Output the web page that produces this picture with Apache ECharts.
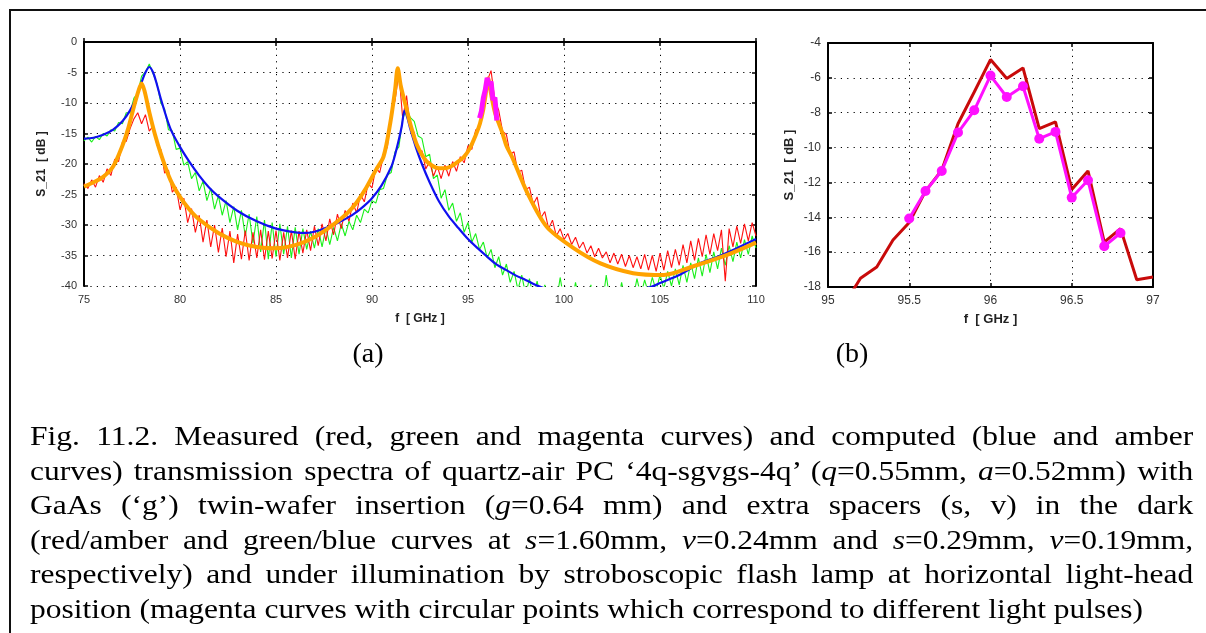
<!DOCTYPE html>
<html>
<head>
<meta charset="utf-8">
<script src="https://cdn.jsdelivr.net/npm/echarts@6/dist/echarts.min.js"></script>
<style>
  html, body { margin: 0; padding: 0; background: #fff; }
  body { width: 1206px; height: 633px; position: relative; overflow: hidden; }
  #frame { position: absolute; left: 9px; top: 9px; width: 1400px; height: 800px;
           border-left: 2px solid #111; border-top: 2px solid #111; }
  #chart { position: absolute; left: 0; top: 0; width: 1206px; height: 633px; }
  .tag { position: absolute; top: 336px; width: 80px; text-align: center;
         font: 28px/34.5px "Liberation Serif", "DejaVu Serif", serif; color: #000; }
  #caption { position: absolute; left: 30px; top: 419px; width: 1034px;
             transform: scaleX(1.125); transform-origin: 0 0;
             font: 28px/34.5px "Liberation Serif", "DejaVu Serif", serif; color: #000; }
  #caption div { white-space: nowrap; text-align: justify; text-align-last: justify; }
  #caption div.last { text-align-last: left; }
</style>
</head>
<body>
<div id="frame"></div>
<div id="chart"></div>
<div class="tag" style="left:328px">(a)</div>
<div class="tag" style="left:812px">(b)</div>
<div id="caption">
  <div>Fig. 11.2. Measured (red, green and magenta curves) and computed (blue and amber</div>
  <div>curves) transmission spectra of quartz-air PC ‘4q-sgvgs-4q’ (<i>q</i>=0.55mm, <i>a</i>=0.52mm) with</div>
  <div>GaAs (‘g’) twin-wafer insertion (<i>g</i>=0.64 mm) and extra spacers (s, v) in the dark</div>
  <div>(red/amber and green/blue curves at <i>s</i>=1.60mm, <i>v</i>=0.24mm and <i>s</i>=0.29mm, <i>v</i>=0.19mm,</div>
  <div>respectively) and under illumination by stroboscopic flash lamp at horizontal light-head</div>
  <div class="last">position (magenta curves with circular points which correspond to different light pulses)</div>
</div>
<script>
// (a) measured spectra, sampled every 0.2 GHz from 75 to 110 GHz
const fStart = 75;
const fStep = 0.2;
const redMeas = [
  -23.2, -24.0, -22.6, -23.8, -21.9, -23.0, -20.8, -21.9, -19.2, -19.6,
  -16.4, -16.3, -14.2, -12.6, -11.6, -13.4, -11.9, -14.6, -13.8, -16.9,
  -17.6, -21.5, -21.0, -24.6, -23.8, -27.5, -25.6, -29.6, -27.3, -31.2,
  -28.4, -32.8, -29.2, -33.6, -30.0, -34.5, -30.5, -35.2, -31.0, -36.2,
  -31.5, -35.6, -30.9, -35.8, -31.2, -35.4, -30.8, -35.7, -31.0, -35.5,
  -30.9, -35.8, -31.2, -35.4, -30.9, -35.6, -31.0, -34.6, -30.8, -34.2,
  -30.2, -33.4, -29.8, -32.6, -29.0, -31.6, -28.2, -30.6, -27.6, -29.4,
  -26.4, -28.0, -25.0, -26.2, -23.2, -23.9, -20.6, -21.4, -18.6, -17.2,
  -11.8, -9.6, -5.0, -12.6, -8.8, -14.2, -14.8, -18.4, -17.8, -20.8,
  -19.6, -22.0, -20.4, -22.4, -20.2, -22.0, -19.6, -21.2, -18.8, -19.8,
  -17.0, -17.6, -14.4, -14.0, -9.8, -6.4, -4.7, -9.6, -11.2, -14.6,
  -15.2, -18.4, -18.0, -21.4, -21.0, -24.2, -23.8, -26.6, -25.4, -28.8,
  -27.8, -30.6, -29.2, -31.8, -30.6, -32.4, -31.4, -33.2, -32.0, -33.8,
  -32.8, -34.6, -33.4, -35.2, -33.8, -35.4, -34.4, -36.2, -34.6, -36.4,
  -34.8, -36.8, -35.0, -37.0, -35.2, -37.2, -34.8, -37.4, -35.0, -37.6,
  -34.6, -37.4, -34.2, -37.0, -34.0, -36.6, -33.2, -36.2, -32.6, -35.8,
  -32.2, -35.2, -31.6, -34.8, -31.4, -34.2, -30.8, -39.2, -30.6, -33.6,
  -30.2, -33.0, -29.8, -32.6, -29.6, -31.8
];
const greenMeas = [
  -16.2, -15.6, -16.4, -15.5, -16.0, -15.0, -15.4, -14.4, -14.6, -13.2,
  -13.4, -11.6, -11.6, -9.2, -8.4, -5.6, -4.9, -3.6, -5.2, -6.8,
  -10.0, -11.0, -14.4, -14.6, -17.6, -17.4, -20.2, -19.6, -22.4, -21.4,
  -24.4, -22.8, -26.0, -24.0, -27.4, -25.2, -28.4, -26.0, -29.6, -27.0,
  -30.8, -27.6, -31.8, -28.2, -33.0, -28.6, -34.4, -29.2, -35.6, -29.6,
  -35.2, -29.8, -34.8, -30.2, -35.4, -30.4, -34.8, -30.6, -34.0, -31.0,
  -33.8, -30.6, -33.6, -30.4, -33.2, -30.4, -32.6, -29.8, -31.8, -29.4,
  -30.8, -28.4, -29.6, -27.4, -28.0, -26.0, -26.4, -24.2, -24.0, -21.8,
  -21.4, -18.0, -17.2, -12.6, -11.0, -12.4, -13.0, -15.4, -15.8, -18.8,
  -18.4, -22.4, -21.8, -25.6, -24.2, -27.6, -26.4, -29.4, -28.0, -31.2,
  -29.6, -32.8, -31.4, -34.0, -32.8, -35.4, -34.0, -37.0, -35.2, -38.2,
  -36.4, -39.4, -37.6, -40.6, -38.2, -41.4, -38.8, -41.8, -39.2, -42.2,
  -39.8, -42.6, -40.4, -42.8, -38.6, -42.4, -40.2, -43.0, -39.4, -42.6,
  -40.6, -43.2, -39.8, -42.8, -40.8, -43.0, -38.2, -42.6, -40.4, -43.0,
  -39.4, -42.4, -40.2, -42.0, -38.8, -41.6, -39.0, -41.2, -38.6, -40.8,
  -38.2, -40.4, -37.6, -40.0, -37.2, -39.8, -36.6, -39.4, -36.2, -38.8,
  -35.4, -38.4, -34.8, -37.8, -34.4, -37.2, -33.8, -36.6, -33.4, -36.0,
  -32.8, -35.4, -32.4, -34.8, -31.8, -33.8
];

// (a) computed spectra [f GHz, S21 dB]
const blueCalc = [
  [75, -15.85], [75.5, -15.7], [76, -15.2], [76.5, -14.4], [77, -13.0], [77.4, -11.2],
  [77.7, -9.3], [78.0, -6.6], [78.2, -5.0], [78.4, -4.1], [78.6, -5.0], [78.8, -7.0],
  [79.0, -9.3], [79.5, -14.2], [80, -17.2], [80.5, -19.7], [81, -21.9], [81.5, -23.8],
  [82, -25.3], [83, -27.7], [84, -29.4], [85, -30.6], [86, -31.2], [86.5, -31.3],
  [87, -31.1], [87.5, -30.6], [88, -30.0], [88.5, -29.2], [89, -28.3], [89.5, -27.1],
  [90, -25.6], [90.5, -23.5], [91.0, -20.5], [91.2, -18.5], [91.4, -16.0], [91.55, -13.8],
  [91.7, -11.2], [91.85, -12.5], [92.0, -14.3], [92.3, -17.4], [92.6, -20.0], [93, -23.0],
  [93.5, -26.2], [94, -28.6], [94.5, -30.5], [95, -32.3], [95.5, -33.8], [96, -35.2],
  [96.5, -36.5], [97, -37.4], [97.5, -38.3], [98, -39.0], [98.5, -39.8], [99, -40.4],
  [100, -41.2], [101, -41.7], [102, -41.8], [103, -41.4], [104, -40.6], [104.65, -40.0],
  [105, -39.5], [106, -38.2], [107, -36.4], [108, -35.2], [109, -33.8], [110, -32.3]
];
const amberCalc = [
  [75, -23.7], [75.5, -23.0], [76, -22.1], [76.5, -20.5], [77, -17.0], [77.3, -14.2],
  [77.6, -10.6], [77.85, -7.9], [78.0, -6.8], [78.15, -8.0], [78.4, -11.5], [78.7, -15.2],
  [79.0, -18.3], [79.5, -22.6], [80, -25.4], [80.5, -27.5], [81, -29.1], [82, -31.3],
  [83, -32.8], [84, -33.6], [85, -33.8], [86, -33.3], [87, -32.0], [88, -29.9],
  [88.7, -28.1], [89.2, -26.3], [89.7, -23.9], [90.2, -21.0], [90.6, -18.8], [90.95, -13.3],
  [91.2, -7.9], [91.34, -4.3], [91.5, -7.2], [91.8, -11.0], [92.0, -13.5], [92.33, -16.8],
  [92.7, -19.0], [93.0, -20.0], [93.5, -20.7], [93.8, -20.7], [94.1, -20.4], [94.4, -19.8],
  [94.8, -18.8], [95.1, -17.4], [95.4, -15.3], [95.62, -13.4], [95.8, -11.0], [95.9, -9.0],
  [96.05, -6.0], [96.2, -8.5], [96.4, -11.5], [96.6, -13.3], [96.8, -15.0], [97.0, -17.0],
  [97.3, -18.9], [98.1, -24.8], [99.1, -30.3], [100.5, -33.8], [101.9, -36.3], [103.6, -37.9],
  [105.2, -38.2], [106.7, -36.8], [108.5, -34.9], [110, -32.9]
];

// (b) dark measurement and light-pulse points
const darkF = [95.1, 95.2, 95.3, 95.4, 95.5, 95.6, 95.7, 95.8, 95.9, 96.0,
               96.1, 96.2, 96.3, 96.4, 96.5, 96.6, 96.7, 96.8, 96.9, 97.0];
const darkDb = [-19.0, -17.5, -16.85, -15.3, -14.3, -12.5, -11.3, -8.63, -6.81, -4.95,
                -6.04, -5.43, -8.91, -8.53, -12.41, -11.34, -15.42, -14.65, -17.58, -17.43];
const pulseF = [95.5, 95.6, 95.7, 95.8, 95.9, 96.0, 96.1, 96.2, 96.3, 96.4, 96.5, 96.6, 96.7, 96.8];
const pulseDb = [-14.07, -12.49, -11.34, -9.14, -7.86, -5.87, -7.1, -6.48, -9.49, -9.1,
                 -12.87, -11.88, -15.66, -14.9];

const xTicksA = { min: 75, max: 110, interval: 5 };
const yTicksA = { min: -40, max: 0, interval: 5 };
const xTicksB = { min: 95, max: 97, interval: 0.5 };
const yTicksB = { min: -18, max: -4, interval: 2 };

const toPairs = (vals) => vals.map((v, i) => [+(fStart + i * fStep).toFixed(1), v]);
const zip = (xs, ys) => xs.map((x, i) => [x, ys[i]]);

const sans = '"Liberation Sans", "DejaVu Sans", Arial, sans-serif';
const dotted = { color: '#000', width: 1, type: [1.2, 5.2] };
const frameLine = { show: true, lineStyle: { color: '#000', width: 2 } };
const inTick = { show: true, inside: true, length: 4, lineStyle: { color: '#000', width: 1.5 } };

function mainX(grid, ticks, size, gap) {
  return {
    type: 'value', gridIndex: grid, position: 'bottom', ...ticks,
    name: 'f  [ GHz ]', nameLocation: 'middle', nameGap: gap,
    nameTextStyle: { fontFamily: sans, fontWeight: 'bold', fontSize: size, color: '#222' },
    axisLine: frameLine, axisTick: inTick,
    axisLabel: { color: '#333', fontFamily: sans, fontSize: size - 1, margin: 8 },
    splitLine: { show: true, lineStyle: dotted }
  };
}
function mainY(grid, ticks, size, gap) {
  return {
    type: 'value', gridIndex: grid, position: 'left', ...ticks,
    name: 'S_21  [ dB ]', nameLocation: 'middle', nameGap: gap,
    nameTextStyle: { fontFamily: sans, fontWeight: 'bold', fontSize: size, color: '#222' },
    axisLine: frameLine, axisTick: inTick,
    axisLabel: { color: '#333', fontFamily: sans, fontSize: size - 1, margin: 7 },
    splitLine: { show: true, lineStyle: dotted }
  };
}
function edgeAxis(grid, ticks, position) {
  return {
    type: 'value', gridIndex: grid, position, ...ticks,
    axisLine: frameLine, axisTick: inTick,
    axisLabel: { show: false }, splitLine: { show: false }
  };
}

const chart = echarts.init(document.getElementById('chart'));
chart.setOption({
  animation: false,
  backgroundColor: 'transparent',
  grid: [
    { left: 84, top: 42, width: 672, height: 244 },
    { left: 828, top: 43, width: 325, height: 244 }
  ],
  xAxis: [
    mainX(0, xTicksA, 12, 27),
    edgeAxis(0, xTicksA, 'top'),
    mainX(1, xTicksB, 13, 26),
    edgeAxis(1, xTicksB, 'top')
  ],
  yAxis: [
    mainY(0, yTicksA, 12, 36),
    edgeAxis(0, yTicksA, 'right'),
    mainY(1, yTicksB, 13, 32),
    edgeAxis(1, yTicksB, 'right')
  ],
  series: [
    {
      name: 'green', type: 'line', xAxisIndex: 0, yAxisIndex: 0, symbol: 'none',
      data: toPairs(greenMeas), lineStyle: { color: '#19f019', width: 1.1 }
    },
    {
      name: 'red', type: 'line', xAxisIndex: 0, yAxisIndex: 0, symbol: 'none',
      data: toPairs(redMeas), lineStyle: { color: '#ff1010', width: 1.1 }
    },
    {
      name: 'blue', type: 'line', xAxisIndex: 0, yAxisIndex: 0, symbol: 'none',
      smooth: 0.3, data: blueCalc, lineStyle: { color: '#1010f0', width: 2.2 }
    },
    {
      name: 'amber', type: 'line', xAxisIndex: 0, yAxisIndex: 0, symbol: 'none',
      smooth: 0.3, data: amberCalc, lineStyle: { color: '#ffa200', width: 4 }
    },
    {
      name: 'magenta a', type: 'line', xAxisIndex: 0, yAxisIndex: 0, symbol: 'none',
      data: zip(pulseF, pulseDb).slice(1, 11), lineStyle: { color: '#ff10ff', width: 5 }
    },
    {
      name: 'dark b', type: 'line', xAxisIndex: 2, yAxisIndex: 2, symbol: 'none',
      data: zip(darkF, darkDb), lineStyle: { color: '#c80a0a', width: 3 }
    },
    {
      name: 'pulses b', type: 'line', xAxisIndex: 2, yAxisIndex: 2,
      symbol: 'circle', symbolSize: 10,
      data: zip(pulseF, pulseDb),
      lineStyle: { color: '#ff10ff', width: 3 },
      itemStyle: { color: '#ff10ff' }
    }
  ]
});
</script>
</body>
</html>
